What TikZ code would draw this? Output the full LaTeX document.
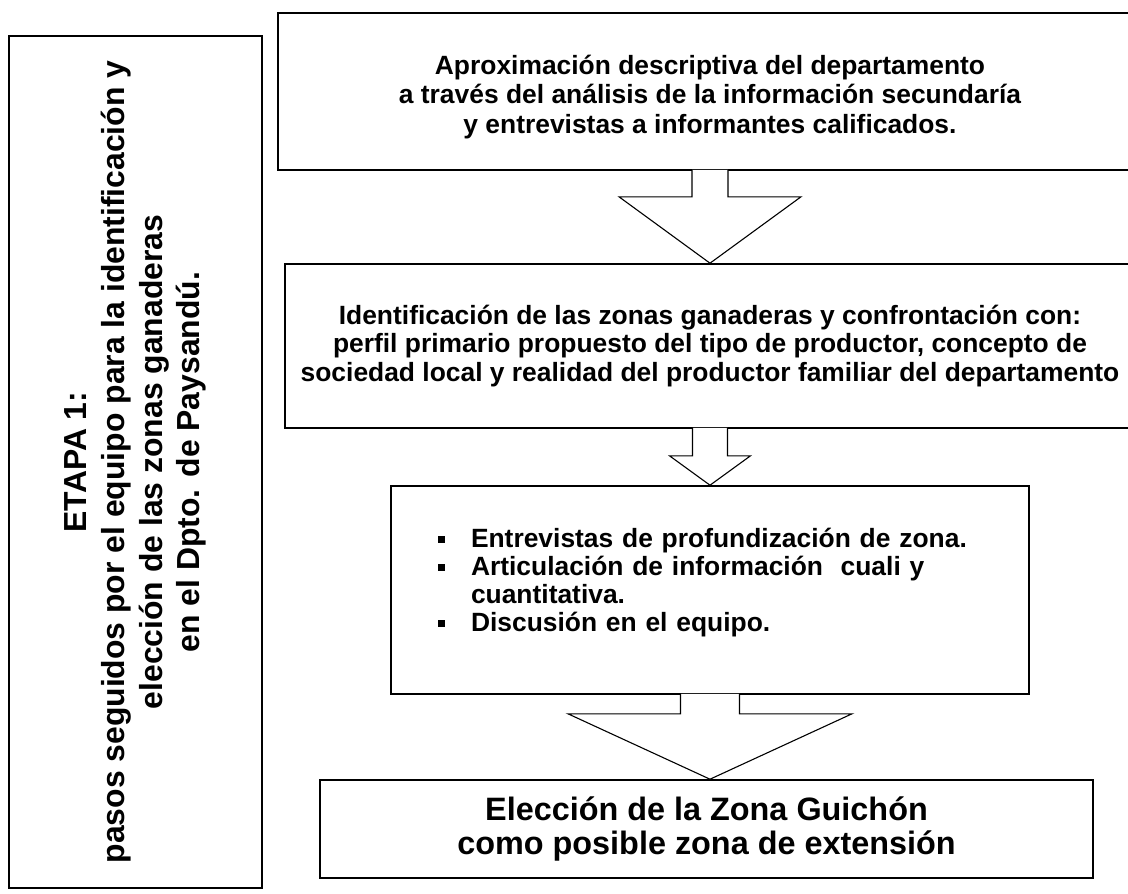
\documentclass[tikz,border=0pt]{standalone}
\usepackage{fontspec}
\setmainfont{Liberation Sans}
\usetikzlibrary{calc}
\newcommand{\vineta}{\makebox[33bp][l]{\rule[5bp]{6.5bp}{6.5bp}}}

\begin{document}
\begin{tikzpicture}[x=1bp,y=-1bp,
      paso/.style={draw=black,rectangle,line width=1.6bp,inner sep=0pt,align=center},
      flecha/.style n args={3}{draw=black,line width=1.1bp,fill=white,
        to path={($(\tikztostart.south)+(-#1,-1)$) -- ($(\tikztostart.south)+(-#1,#3)$)
          -- ($(\tikztostart.south)+(-#2,#3)$) -- (\tikztostart.south |- \tikztotarget.north)
          -- ($(\tikztostart.south)+(#2,#3)$) -- ($(\tikztostart.south)+(#1,#3)$)
          -- ($(\tikztostart.south)+(#1,-1)$)}}]
    \useasboundingbox (0,0) rectangle (1128,894);
    \clip (0,0) rectangle (1128,894);
    \node (etapa) [paso,rotate=90,minimum width=852bp,minimum height=253bp,
      font=\bfseries\fontsize{32}{38}\selectfont] at (135.5,462)
      {ETAPA 1:\\ pasos seguidos por el equipo para la identificación y\\
       elección de las zonas ganaderas\\ en el Dpto. de Paysandú.};
    \node (aprox) [paso,minimum width=864bp,minimum height=157bp,
      font=\bfseries\fontsize{26.5}{29.5}\selectfont] at (710,91.5)
      {\rule{0pt}{30bp}Aproximación descriptiva del departamento\\ a través del análisis de la información secundaría\\
       y entrevistas a informantes calificados.};
    \node (ident) [paso,minimum width=850bp,minimum height=164bp,
      font=\bfseries\fontsize{26.5}{29}\selectfont] at (710,346)
      {Identificación de las zonas ganaderas y confrontación con:\\
       perfil primario propuesto del tipo de productor, concepto de\\
       sociedad local y realidad del productor familiar del departamento};
    \node (pasos) [paso,minimum width=638bp,minimum height=208bp,text width=544bp,align=left,
      font=\bfseries\fontsize{26.5}{28}\selectfont] at (710,590)
      {\vineta Entrevistas de profundización de zona.\\
       \vineta Articulación de información\ \ cuali y\\
       \hspace*{33bp}cuantitativa.\\
       \vineta Discusión en el equipo.\rule[-20bp]{0pt}{0pt}};
    \node (eleccion) [paso,minimum width=773bp,minimum height=98bp,
      font=\bfseries\fontsize{32.5}{34}\selectfont] at (706.5,829)
      {Elección de la Zona Guichón\\ como posible zona de extensión};
    \draw[flecha={18}{91}{26}] (aprox) to (ident);
    \draw[flecha={17.5}{40.5}{27}] (ident) to (pasos);
    \draw[flecha={29.5}{142}{19}] (pasos) to (eleccion);
\end{tikzpicture}
\end{document}
